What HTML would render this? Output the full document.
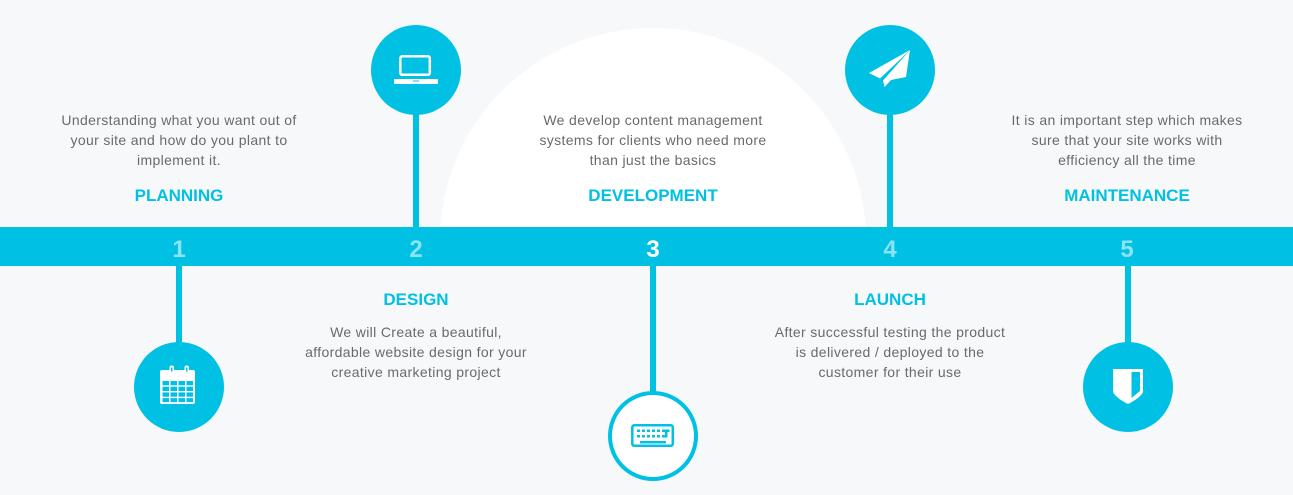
<!DOCTYPE html>
<html><head><meta charset="utf-8"><style>
html,body{margin:0;padding:0;background:#f7f8fa;width:1293px;height:495px;overflow:hidden}
svg{display:block}
.d{font-family:"Liberation Sans",sans-serif;font-size:14px;fill:#6a6a6a;letter-spacing:0.35px}
.t{font-family:"Liberation Sans",sans-serif;font-size:17px;font-weight:bold;fill:#00c1e3}
.n{font-family:"Liberation Sans",sans-serif;font-size:24px;font-weight:bold;fill:#8ce3f3}
</style></head><body>
<svg width="1293" height="495" viewBox="0 0 1293 495" xmlns="http://www.w3.org/2000/svg">
<defs><clipPath id="top"><rect x="0" y="0" width="1293" height="228"/></clipPath></defs>
<rect width="1293" height="495" fill="#f7f8fa"/>
<circle cx="653" cy="241" r="213" fill="#ffffff" clip-path="url(#top)"/>
<!-- stems -->
<rect x="413" y="100" width="6" height="130" fill="#00c1e3"/>
<rect x="887" y="100" width="6" height="130" fill="#00c1e3"/>
<rect x="176" y="262" width="6" height="90" fill="#00c1e3"/>
<rect x="650" y="262" width="6" height="132" fill="#00c1e3"/>
<rect x="1125" y="262" width="6" height="90" fill="#00c1e3"/>
<!-- bar -->
<rect x="0" y="227" width="1293" height="39" fill="#00c1e3"/>
<text class="n" x="179" y="257" text-anchor="middle">1</text>
<text class="n" x="416" y="257" text-anchor="middle">2</text>
<text class="n" x="653" y="257" text-anchor="middle" style="fill:#ffffff">3</text>
<text class="n" x="890" y="257" text-anchor="middle">4</text>
<text class="n" x="1127" y="257" text-anchor="middle">5</text>
<!-- circles -->
<circle cx="416" cy="70" r="45" fill="#00c1e3"/>
<circle cx="890" cy="70" r="45" fill="#00c1e3"/>
<circle cx="179" cy="387" r="45" fill="#00c1e3"/>
<circle cx="653" cy="436" r="43" fill="#ffffff" stroke="#00c1e3" stroke-width="4"/>
<circle cx="1128" cy="387" r="45" fill="#00c1e3"/>
<!-- laptop -->
<rect x="400.3" y="56.3" width="29.5" height="18.5" rx="2" fill="none" stroke="#fff" stroke-width="2.5"/>
<rect x="394" y="79" width="44" height="5" rx="1" fill="#fff"/>
<rect x="413" y="80.5" width="6" height="1" fill="#00c1e3"/>
<!-- paper plane -->
<polygon points="910,50 869,73 880,78.5" fill="#fff"/>
<polygon points="910,50 883,80.5 884.5,87 891,80 906,77" fill="#fff"/>
<!-- calendar -->
<rect x="160" y="370" width="35" height="34" rx="2" fill="#fff"/>
<rect x="169.5" y="365.5" width="4.5" height="8" rx="2" fill="#fff"/>
<rect x="184.5" y="365.5" width="4.5" height="8" rx="2" fill="#fff"/>
<rect x="171" y="367.5" width="1.5" height="4" fill="#00c1e3"/>
<rect x="186" y="367.5" width="1.5" height="4" fill="#00c1e3"/>
<g fill="#00c1e3">
<rect x="162.5" y="381" width="6.5" height="4.3"/><rect x="170.5" y="381" width="6.5" height="4.3"/><rect x="178.5" y="381" width="6.5" height="4.3"/><rect x="186.5" y="381" width="6.5" height="4.3"/>
<rect x="162.5" y="386.7" width="6.5" height="4.3"/><rect x="170.5" y="386.7" width="6.5" height="4.3"/><rect x="178.5" y="386.7" width="6.5" height="4.3"/><rect x="186.5" y="386.7" width="6.5" height="4.3"/>
<rect x="162.5" y="392.4" width="6.5" height="4.3"/><rect x="170.5" y="392.4" width="6.5" height="4.3"/><rect x="178.5" y="392.4" width="6.5" height="4.3"/><rect x="186.5" y="392.4" width="6.5" height="4.3"/>
<rect x="162.5" y="398.1" width="6.5" height="4.0"/><rect x="170.5" y="398.1" width="6.5" height="4.0"/><rect x="178.5" y="398.1" width="6.5" height="4.0"/><rect x="186.5" y="398.1" width="6.5" height="4.0"/>
</g>
<!-- keyboard -->
<rect x="632.3" y="425.3" width="40.5" height="20.5" rx="2" fill="none" stroke="#00c1e3" stroke-width="2.5"/>
<g fill="#00c1e3">
<rect x="637" y="429.5" width="3" height="2.5"/><rect x="642" y="429.5" width="3" height="2.5"/><rect x="647" y="429.5" width="3" height="2.5"/><rect x="652" y="429.5" width="3" height="2.5"/><rect x="657" y="429.5" width="3" height="2.5"/><rect x="662" y="429.5" width="3" height="2.5"/><rect x="667" y="429.5" width="2.5" height="2.5"/>
<rect x="637" y="435" width="3" height="2.5"/><rect x="642" y="435" width="3" height="2.5"/><rect x="647" y="435" width="3" height="2.5"/><rect x="652" y="435" width="3" height="2.5"/><rect x="657" y="435" width="3" height="2.5"/>
<rect x="662" y="435" width="5" height="2.5"/><rect x="665" y="429.5" width="2.5" height="8"/>
<rect x="640" y="441" width="26" height="2.5"/>
</g>
<!-- shield -->
<path d="M1113,369 L1143,369 L1143,392 Q1140,398 1128,404 Q1116,398 1113,392 Z" fill="#fff"/>
<polygon points="1131.5,372 1140,372 1140,391 1131.5,398" fill="#00c1e3"/>
<!-- top texts -->
<text class="d" x="179" y="125" text-anchor="middle">Understanding what you want out of</text>
<text class="d" x="179" y="145" text-anchor="middle">your site and how do you plant to</text>
<text class="d" x="179" y="165" text-anchor="middle">implement it.</text>
<text class="t" x="179" y="201" text-anchor="middle">PLANNING</text>

<text class="d" x="653" y="125" text-anchor="middle">We develop content management</text>
<text class="d" x="653" y="145" text-anchor="middle">systems for clients who need more</text>
<text class="d" x="653" y="165" text-anchor="middle">than just the basics</text>
<text class="t" x="653" y="201" text-anchor="middle">DEVELOPMENT</text>

<text class="d" x="1127" y="125" text-anchor="middle">It is an important step which makes</text>
<text class="d" x="1127" y="145" text-anchor="middle">sure that your site works with</text>
<text class="d" x="1127" y="165" text-anchor="middle">efficiency all the time</text>
<text class="t" x="1127" y="201" text-anchor="middle">MAINTENANCE</text>
<!-- bottom texts -->
<text class="t" x="416" y="305" text-anchor="middle">DESIGN</text>
<text class="d" x="416" y="337" text-anchor="middle">We will Create a beautiful,</text>
<text class="d" x="416" y="357" text-anchor="middle">affordable website design for your</text>
<text class="d" x="416" y="377" text-anchor="middle">creative marketing project</text>

<text class="t" x="890" y="305" text-anchor="middle">LAUNCH</text>
<text class="d" x="890" y="337" text-anchor="middle">After successful testing the product</text>
<text class="d" x="890" y="357" text-anchor="middle">is delivered / deployed to the</text>
<text class="d" x="890" y="377" text-anchor="middle">customer for their use</text>
</svg>
</body></html>
